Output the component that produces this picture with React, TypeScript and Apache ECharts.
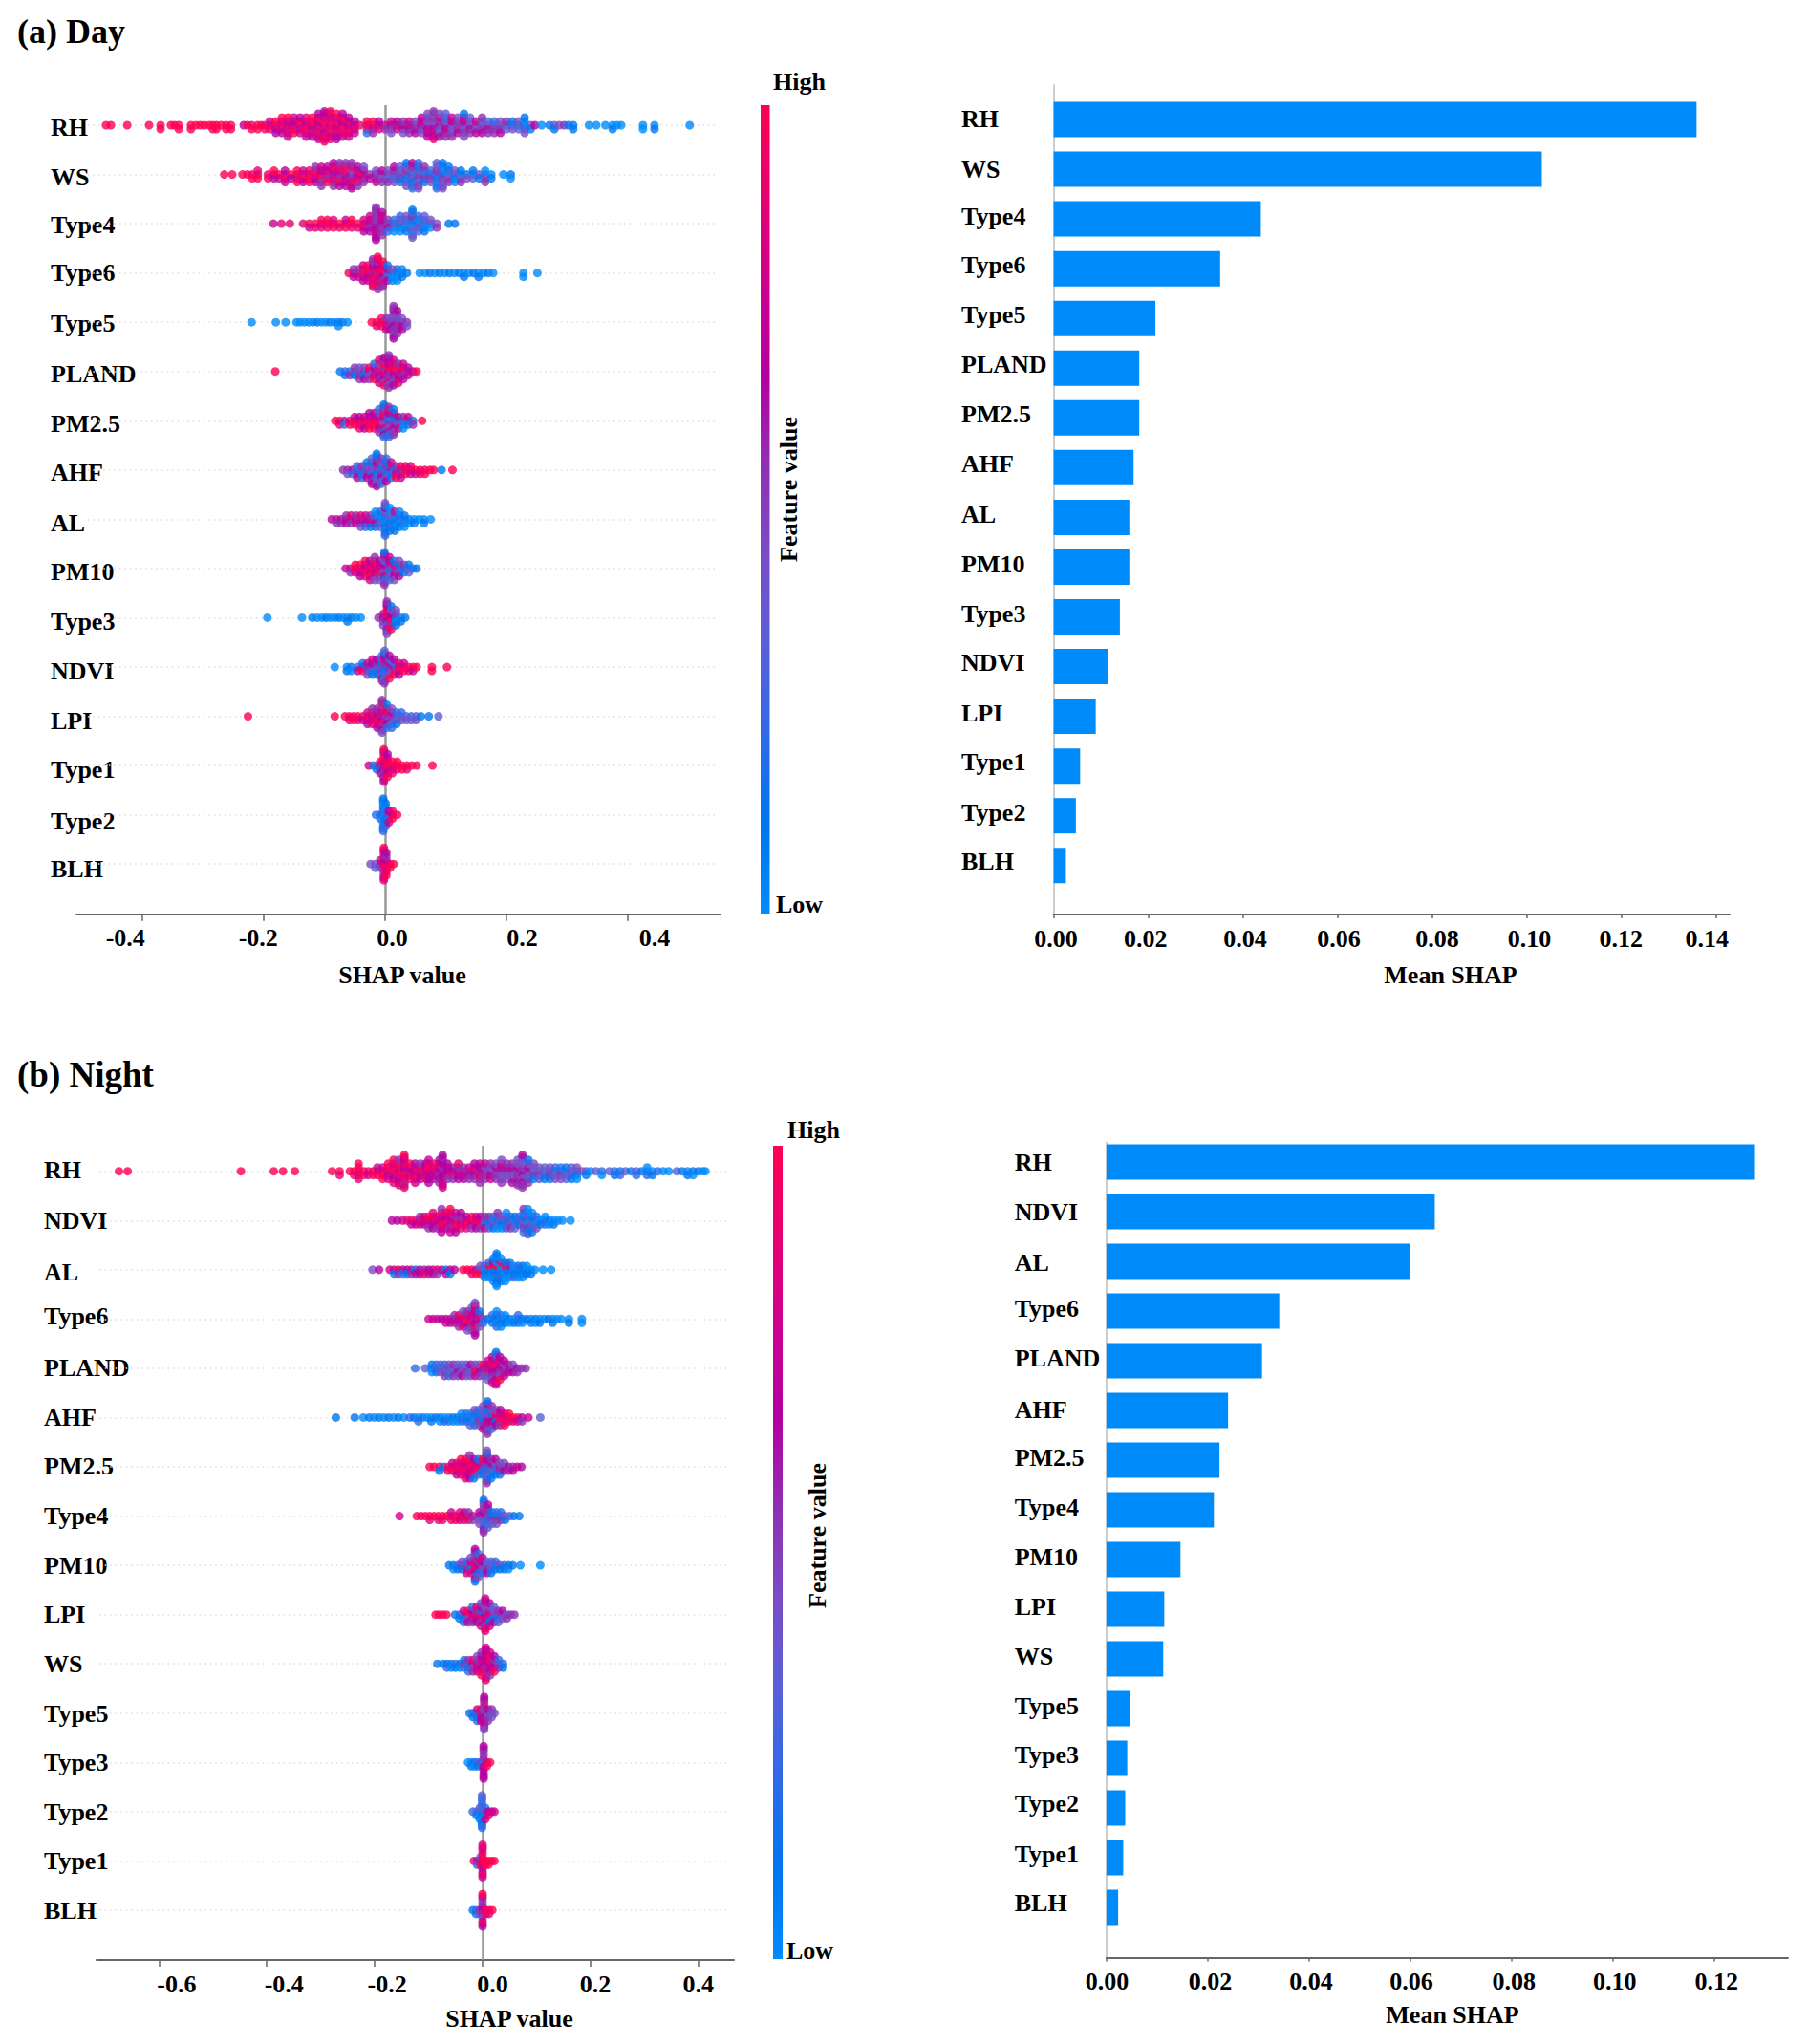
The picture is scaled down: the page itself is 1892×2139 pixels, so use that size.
import React, { useEffect, useRef } from "react";
import * as echarts from "echarts";

type Col = [number, string]; // [SHAP value in thousandths, one digit (0 low .. 9 high) per stacked dot]

const FONT = "'Liberation Serif','Times New Roman',serif";

const dayNames = ["RH","WS","Type4","Type6","Type5","PLAND","PM2.5","AHF","AL","PM10","Type3","NDVI","LPI","Type1","Type2","BLH"];
const nightNames = ["RH","NDVI","AL","Type6","PLAND","AHF","PM2.5","Type4","PM10","LPI","WS","Type5","Type3","Type2","Type1","BLH"];

const dayMean = [0.1359,0.1032,0.0438,0.0352,0.0215,0.0181,0.0181,0.0169,0.016,0.016,0.014,0.0114,0.0089,0.0056,0.0047,0.0026];
const nightMean = [0.128,0.0648,0.06,0.0341,0.0307,0.024,0.0223,0.0212,0.0146,0.0114,0.0112,0.0046,0.0041,0.0037,0.0033,0.0023];

const swarmDayTicks = [-0.4,-0.2,0,0.2,0.4];
const swarmDayLabelAt = [-0.428,-0.209,0.012,0.226,0.444];
const swarmDayLabels = ["-0.4","-0.2","0.0","0.2","0.4"];
const swarmNightTicks = [-0.6,-0.4,-0.2,0,0.2,0.4];
const swarmNightLabelAt = [-0.567,-0.368,-0.177,0.0186,0.209,0.4];
const swarmNightLabels = ["-0.6","-0.4","-0.2","0.0","0.2","0.4"];
const barDayTicks = [0,0.02,0.04,0.06,0.08,0.1,0.12,0.14];
const barDayLabelAt = [0.0005,0.0194,0.0405,0.0603,0.0811,0.1006,0.1199,0.1381];
const barDayLabels = ["0.00","0.02","0.04","0.06","0.08","0.10","0.12","0.14"];
const barNightTicks = [0,0.02,0.04,0.06,0.08,0.1,0.12];
const barNightLabelAt = [0.0001,0.0205,0.0404,0.0602,0.0804,0.1003,0.1204];
const barNightLabels = ["0.00","0.02","0.04","0.06","0.08","0.10","0.12"];

const palette = ["#008bfb","#0075f0","#2f6ae8","#5a5fd8","#7a4cc6","#9030b2","#b400a0","#cc0090","#e60072","#ff0051"];

// ---- Day swarm rows ----
const dayRH: Col[] = [[-460,"9"],[-452,"9"],[-425,"9"],[-389,"9"],[-370,"99"],[-353,"9"],[-347,"9"],[-340,"99"],[-320,"99"],[-312,"9"],[-305,"9"],[-298,"9"],[-290,"9"],[-284,"99"],[-278,"99"],[-270,"9"],[-262,"99"],[-254,"99"],[-233,"6"],[-227,"9"],[-220,"89"],[-210,"99"],[-204,"9"],[-198,"89"],[-190,"987"],[-180,"8796"],[-170,"98769"],[-160,"976897"],[-150,"78697"],[-140,"87976"],[-130,"697887"],[-120,"769896"],[-110,"97689867"],[-100,"7896787968"],[-90,"689976789"],[-80,"76987696"],[-70,"7968976"],[-60,"678967"],[-50,"7867"],[-42,"8"],[-30,"6992"],[-20,"8795"],[-10,"786"],[0,"75"],[10,"6574"],[20,"576"],[30,"7654"],[40,"5675"],[50,"6546"],[60,"65746"],[70,"5647564"],[80,"564756485"],[90,"6453764"],[100,"5647253"],[110,"546475"],[120,"45564"],[130,"5465741"],[140,"46453"],[150,"5476"],[160,"45365"],[170,"4635"],[180,"4525"],[190,"3546"],[200,"435"],[210,"241"],[220,"134"],[230,"12041"],[240,"41"],[247,"6"],[258,"0"],[271,"1"],[279,"31"],[287,"4"],[295,"5"],[302,"1"],[310,"11"],[336,"0"],[348,"0"],[363,"0"],[375,"01"],[382,"0"],[389,"0"],[425,"00"],[444,"01"],[502,"0"]];
const dayWS: Col[] = [[-265,"9"],[-252,"9"],[-235,"9"],[-227,"9"],[-219,"89"],[-210,"998"],[-193,"89"],[-183,"769"],[-175,"97"],[-165,"8967"],[-155,"96"],[-145,"9799"],[-135,"8976"],[-125,"7989"],[-115,"87965"],[-105,"896575"],[-95,"75896"],[-85,"5768956"],[-75,"6579865"],[-65,"5687965"],[-55,"65478956"],[-45,"768965"],[-35,"97654"],[-25,"56"],[-15,"6547"],[-5,"5465"],[5,"5345"],[15,"42546"],[25,"25413"],[35,"4152441"],[45,"14315262"],[55,"25431524"],[65,"35215"],[75,"1524"],[85,"31524032"],[95,"15240314"],[105,"04251"],[115,"2140"],[125,"0315"],[135,"14"],[145,"031"],[155,"41"],[165,"2405"],[175,"01"],[195,"0"],[207,"10"]];
const dayType4: Col[] = [[-184,"7"],[-171,"8"],[-157,"8"],[-135,"8"],[-125,"97"],[-115,"98"],[-105,"789"],[-95,"989"],[-85,"798"],[-75,"98"],[-65,"897"],[-55,"989"],[-45,"98"],[-35,"9876"],[-25,"65767"],[-15,"56565756565"],[-5,"6565756"],[5,"4652"],[15,"1420"],[25,"01402"],[35,"40214"],[45,"301450241"],[55,"14032"],[65,"40213"],[75,"204"],[85,"45"],[105,"1"],[115,"1"]];
const dayType6: Col[] = [[-60,"9"],[-52,"765"],[-44,"975"],[-36,"58967"],[-28,"96879"],[-20,"578967595"],[-12,"59876958759"],[-4,"86957895"],[4,"24761"],[12,"1040"],[20,"1020"],[28,"010"],[36,"1"],[57,"0"],[66,"0"],[74,"1"],[82,"0"],[90,"1"],[98,"0"],[106,"1"],[114,"0"],[122,"1"],[130,"01"],[138,"0"],[146,"1"],[154,"01"],[162,"0"],[170,"1"],[178,"0"],[228,"00"],[251,"0"]];
const dayType5: Col[] = [[-220,"0"],[-180,"0"],[-164,"0"],[-146,"0"],[-140,"0"],[-133,"0"],[-126,"0"],[-119,"0"],[-112,"1"],[-105,"0"],[-98,"0"],[-91,"1"],[-84,"0"],[-77,"10"],[-70,"1"],[-62,"0"],[-22,"9"],[-14,"98"],[-6,"899"],[2,"9857"],[8,"6546"],[14,"56454564565"],[20,"6545456"],[28,"5646"],[36,"54"]];
const dayPLAND: Col[] = [[-181,"9"],[-74,"1"],[-66,"21"],[-58,"25"],[-50,"415"],[-42,"3545"],[-34,"5146"],[-26,"6495"],[-18,"47692"],[-10,"5695478"],[-2,"785694596"],[6,"65956874655"],[14,"76958476"],[22,"579658"],[30,"65967"],[38,"576"],[46,"6"],[52,"9"]];
const dayPM25: Col[] = [[-82,"9"],[-75,"98"],[-67,"72"],[-58,"79"],[-50,"897"],[-42,"7968"],[-34,"8976"],[-26,"98796"],[-18,"89796"],[-10,"8976452"],[-2,"34789156421"],[6,"1524678152"],[14,"25167415"],[22,"1467"],[30,"1250"],[38,"417"],[46,"15"],[61,"9"]];
const dayAHF: Col[] = [[-69,"5"],[-62,"54"],[-54,"62"],[-46,"1526"],[-38,"4152"],[-30,"25461"],[-22,"52461536"],[-14,"41526354161"],[-6,"25164352"],[2,"3154162"],[10,"62517"],[18,"1759"],[26,"6597"],[34,"798"],[42,"978"],[50,"97"],[58,"98"],[66,"89"],[74,"9"],[80,"9"],[93,"1"],[111,"9"]];
const dayAL: Col[] = [[-88,"6"],[-80,"75"],[-72,"65"],[-64,"765"],[-56,"758"],[-48,"675"],[-40,"5684"],[-32,"5672"],[-24,"6751"],[-16,"46210"],[-8,"12041"],[0,"10214061024"],[8,"0142010"],[16,"012071"],[24,"10210"],[32,"0210"],[40,"10"],[48,"01"],[56,"0"],[64,"01"],[75,"0"]];
const dayPM10: Col[] = [[-65,"7"],[-57,"75"],[-49,"989"],[-41,"8796"],[-33,"79689"],[-25,"978967"],[-17,"9678945"],[-9,"897564"],[-1,"54673154651"],[7,"3154627"],[15,"258614"],[23,"53164"],[31,"215"],[39,"031"],[46,"2"],[52,"1"]];
const dayType3: Col[] = [[-194,"0"],[-137,"0"],[-120,"1"],[-112,"0"],[-104,"0"],[-97,"1"],[-90,"0"],[-83,"0"],[-76,"1"],[-69,"0"],[-62,"01"],[-55,"1"],[-48,"0"],[-40,"0"],[-11,"5"],[-3,"6574"],[3,"56849765645"],[10,"7965491"],[18,"10514"],[26,"01"],[33,"1"]];
const dayNDVI: Col[] = [[-83,"0"],[-63,"01"],[-56,"10"],[-45,"26"],[-37,"791"],[-29,"1574"],[-21,"52617"],[-13,"42516"],[-5,"25143625"],[-1,"41527462153"],[7,"1574296"],[15,"75296"],[23,"7986"],[31,"897"],[39,"98"],[46,"97"],[52,"9"],[77,"99"],[102,"9"]];
const dayLPI: Col[] = [[-226,"9"],[-83,"9"],[-66,"9"],[-59,"98"],[-52,"89"],[-45,"98"],[-37,"97"],[-29,"9876"],[-21,"67985"],[-13,"697856"],[-5,"56798546945"],[3,"4576921"],[11,"456342"],[19,"4321"],[27,"342"],[35,"34"],[43,"23"],[51,"34"],[59,"1"],[72,"1"],[88,"3"]];
const dayType1: Col[] = [[-27,"7"],[-20,"2"],[-14,"31"],[-8,"7196"],[-2,"97659795679"],[4,"9896796"],[12,"9798"],[20,"989"],[28,"99"],[36,"98"],[44,"9"],[52,"9"],[78,"9"]];
const dayType2: Col[] = [[-15,"2"],[-8,"12"],[-3,"10201201021"],[1,"0121021"],[6,"5267"],[12,"698"],[20,"9"]];
const dayBLH: Col[] = [[-24,"4"],[-16,"43"],[-8,"547"],[-2,"79659566789"],[2,"9868596"],[8,"89"],[14,"9"]];

// ---- Night swarm rows ----
const nightRH: Col[] = [[-674,"9"],[-658,"9"],[-448,"9"],[-387,"9"],[-370,"9"],[-348,"9"],[-279,"9"],[-265,"98"],[-246,"9"],[-238,"98"],[-230,"98989"],[-220,"89"],[-212,"97"],[-203,"89"],[-195,"987"],[-185,"8979"],[-175,"96879"],[-165,"7896789"],[-155,"69879658"],[-145,"89678965789"],[-135,"97689"],[-125,"678967"],[-115,"97865"],[-105,"87696"],[-100,"6796867"],[-90,"67868"],[-80,"6576856"],[-74,"76566768576"],[-65,"67656"],[-55,"7865"],[-45,"67568"],[-35,"6756"],[-25,"5675"],[-15,"76856"],[-5,"576865"],[5,"65457"],[15,"56475"],[25,"45654"],[35,"5464754"],[45,"54645"],[55,"546456"],[65,"45654645"],[74,"56544635456"],[85,"5462451"],[95,"45314"],[105,"3543"],[115,"4231"],[125,"3541"],[135,"1324"],[145,"1524"],[155,"0413"],[165,"2431"],[175,"3140"],[185,"4"],[192,"31"],[200,"0"],[210,"3"],[221,"20"],[235,"3"],[245,"21"],[255,"12"],[265,"3"],[275,"1"],[285,"32"],[295,"1"],[305,"120"],[315,"01"],[325,"2"],[335,"0"],[345,"0"],[360,"3"],[370,"1"],[380,"01"],[390,"10"],[400,"1"],[408,"0"],[413,"0"]];
const nightNDVI: Col[] = [[-168,"6"],[-158,"6"],[-148,"7"],[-140,"8"],[-132,"87"],[-124,"96"],[-116,"785"],[-108,"967"],[-100,"8795"],[-92,"67968"],[-84,"9675"],[-76,"6978965"],[-68,"79678"],[-60,"9765879"],[-50,"685976"],[-40,"97586"],[-30,"7968"],[-20,"8795"],[-12,"9876"],[-4,"9865"],[4,"4257"],[12,"2153"],[20,"0421"],[28,"14205"],[36,"2140"],[44,"31420"],[52,"1425"],[60,"0213"],[68,"412"],[76,"3415025"],[84,"10452103"],[92,"041201"],[100,"1024"],[108,"01"],[116,"120"],[124,"10"],[132,"01"],[140,"0"],[148,"0"],[163,"0"]];
const nightAL: Col[] = [[-204,"4"],[-192,"6"],[-172,"7"],[-164,"71"],[-156,"85"],[-148,"72"],[-140,"61"],[-132,"75"],[-124,"16"],[-116,"76"],[-108,"58"],[-100,"67"],[-92,"76"],[-84,"85"],[-76,"7"],[-68,"16"],[-60,"71"],[-52,"6"],[-36,"9"],[-28,"9"],[-20,"98"],[-12,"79"],[-4,"194"],[4,"0120"],[12,"01902"],[20,"0190701"],[26,"01920111001"],[34,"0102910"],[42,"019010"],[50,"01701"],[58,"0102"],[66,"0120"],[74,"0110"],[82,"010"],[90,"01"],[97,"0"],[112,"0"],[127,"0"]];
const nightType6: Col[] = [[-100,"7"],[-92,"7"],[-84,"7"],[-76,"6"],[-68,"67"],[-60,"76"],[-52,"675"],[-44,"7685"],[-36,"67984"],[-28,"598654"],[-20,"7965843"],[-14,"56786975864"],[-6,"57841"],[2,"42"],[10,"1"],[18,"012"],[26,"10120"],[34,"0120"],[42,"010"],[50,"10"],[58,"01"],[66,"012"],[74,"10"],[82,"1"],[90,"01"],[98,"10"],[106,"01"],[114,"0"],[122,"1"],[130,"01"],[138,"0"],[146,"0"],[160,"01"],[184,"00"]];
const nightPLAND: Col[] = [[-125,"2"],[-106,"3"],[-94,"201"],[-86,"312"],[-78,"243"],[-70,"4325"],[-62,"5342"],[-54,"4355"],[-46,"4634"],[-38,"5436"],[-30,"4534"],[-22,"5364"],[-14,"5947"],[-6,"9645"],[2,"6594"],[10,"586473"],[18,"76958467"],[25,"76857658471"],[32,"6574896"],[40,"65476"],[48,"567"],[56,"564"],[64,"65"],[72,"5"],[80,"5"]];
const nightAHF: Col[] = [[-272,"1"],[-237,"1"],[-221,"0"],[-210,"1"],[-201,"0"],[-192,"1"],[-183,"0"],[-174,"1"],[-165,"0"],[-156,"1"],[-146,"0"],[-135,"2"],[-127,"1"],[-119,"02"],[-111,"1"],[-103,"0"],[-95,"01"],[-87,"1"],[-79,"10"],[-71,"01"],[-63,"02"],[-55,"10"],[-47,"10"],[-39,"120"],[-31,"012"],[-23,"2103"],[-15,"30124"],[-7,"25142"],[1,"4125364"],[9,"56471524651"],[17,"5617425"],[25,"71964"],[33,"89756"],[41,"9879"],[49,"989"],[57,"98"],[65,"97"],[73,"65"],[85,"7"],[107,"3"]];
const nightPM25: Col[] = [[-98,"9"],[-90,"9"],[-80,"91"],[-72,"1"],[-64,"98"],[-56,"897"],[-48,"7986"],[-40,"98789"],[-32,"896798"],[-24,"9787965"],[-16,"978961"],[-8,"89721"],[0,"72519"],[8,"21546372154"],[16,"146251"],[24,"52416"],[32,"6541"],[40,"564"],[48,"65"],[56,"56"],[64,"7"],[72,"6"]];
const nightType4: Col[] = [[-154,"7"],[-122,"9"],[-114,"8"],[-106,"9"],[-98,"98"],[-90,"9"],[-82,"98"],[-74,"98"],[-66,"9"],[-58,"987"],[-50,"89"],[-42,"978"],[-34,"986"],[-26,"985"],[-18,"75"],[-6,"5364"],[2,"54635256451"],[10,"4152536"],[18,"2513"],[26,"1524"],[34,"152"],[42,"41"],[50,"3"],[58,"1"],[68,"1"]];
const nightPM10: Col[] = [[-62,"1"],[-54,"10"],[-46,"21"],[-38,"514"],[-30,"4527"],[-22,"52784"],[-14,"79865427516"],[-8,"6751842"],[0,"54627"],[8,"4536"],[16,"2431"],[24,"312"],[32,"41"],[40,"21"],[48,"10"],[56,"1"],[70,"0"],[107,"0"]];
const nightLPI: Col[] = [[-87,"9"],[-81,"9"],[-74,"9"],[-67,"9"],[-51,"1"],[-43,"21"],[-35,"3172"],[-27,"7496"],[-19,"87652"],[-11,"97568"],[-3,"9815674"],[5,"68574159687"],[13,"6581476"],[21,"51463"],[29,"4153"],[37,"546"],[45,"35"],[52,"5"],[59,"5"]];
const nightWS: Col[] = [[-84,"1"],[-73,"1"],[-66,"12"],[-58,"10"],[-50,"21"],[-42,"10"],[-34,"921"],[-26,"3152"],[-18,"7485"],[-10,"68574"],[-2,"5678695"],[6,"65786579687"],[14,"6786957"],[22,"76596"],[30,"452"],[38,"21"]];
const nightType5: Col[] = [[-24,"1"],[-18,"21"],[-10,"3172"],[-3,"5786"],[3,"56475687546"],[10,"5465"],[17,"345"],[22,"4"]];
const nightType3: Col[] = [[-27,"0"],[-21,"01"],[-15,"10"],[-9,"21"],[-2,"52"],[2,"06565656566"],[8,"79"],[14,"9"]];
const nightType2: Col[] = [[-18,"2"],[-11,"31"],[-5,"2031"],[-1,"21302131023"],[5,"4127"],[11,"68"],[17,"7"],[22,"7"]];
const nightType1: Col[] = [[-16,"8"],[-10,"72"],[-4,"693"],[0,"78979679878"],[5,"99"],[11,"99"],[17,"9"],[22,"9"]];
const nightBLH: Col[] = [[-18,"1"],[-12,"21"],[-5,"54"],[0,"65645659769"],[6,"89"],[12,"98"],[18,"9"]];

const dayRows = [dayRH,dayWS,dayType4,dayType6,dayType5,dayPLAND,dayPM25,dayAHF,dayAL,dayPM10,dayType3,dayNDVI,dayLPI,dayType1,dayType2,dayBLH];
const nightRows = [nightRH,nightNDVI,nightAL,nightType6,nightPLAND,nightAHF,nightPM25,nightType4,nightPM10,nightLPI,nightWS,nightType5,nightType3,nightType2,nightType1,nightBLH];

// Hand-set label shifts (px) of the row labels, which sit unevenly in the picture.
const swarmDayNudge = [3,3,1,0,1,3,3,3,4,4,4,4,5,4,7,5];
const swarmNightNudge = [-1,0,3,-3,0,0,0,0,0,0,0,1,0,1,0,1];
const barDayNudge = [0,0,-3,-4,-4,-4,-4,-4,-3,-3,-3,-4,-3,-4,-3,-4];
const barNightNudge = [0,0,1,-3,-3,-1,-3,-3,-3,-3,-3,-3,-4,-5,-4,-5];

const ROW_PX = 51.55;
const BAR_ROW_PX = 52.05;
const SERIF = `bold 26px ${FONT}`;

function stackOffsetPx(k: number) {
  if (k === 0) return 0;
  const level = Math.ceil(k / 2);
  const px = level <= 3 ? level * 4 : 12 + (level - 3) * 2.5;
  return (k % 2 ? 1 : -1) * px;
}

function swarmPoints(rows: Col[][]) {
  const pts: number[][] = [];
  rows.forEach((cols, row) => {
    cols.forEach(([milli, digits]) => {
      digits.split("").forEach((d, k) => {
        pts.push([milli / 1000, row + stackOffsetPx(k) / ROW_PX, Number(d)]);
      });
    });
  });
  return pts;
}

const axisText = { fontFamily: FONT, fontWeight: "bold" as const, fontSize: 26, color: "#000" };

function xAxisOf(grid: number, min: number, max: number, ticks: number[], at: number[], labels: string[], tickLen: number) {
  return {
    type: "value", gridIndex: grid, min, max, position: "bottom",
    splitLine: { show: false },
    axisLine: { show: true, onZero: false, lineStyle: { color: "#666", width: 2 } },
    axisTick: { show: true, customValues: ticks, length: tickLen, lineStyle: { color: "#666", width: 1.5 } },
    axisLabel: {
      ...axisText, margin: 12, customValues: at, hideOverlap: false,
      formatter: (v: number) => labels[at.indexOf(v)] ?? "",
    },
  };
}

function swarmYAxis(grid: number, min: number, max: number, names: string[], nudge: number[], margin: number) {
  const at = names.map((_, i) => i + nudge[i] / ROW_PX);
  return {
    type: "value", gridIndex: grid, min, max, inverse: true,
    splitLine: { show: false }, axisLine: { show: false }, axisTick: { show: false },
    axisLabel: {
      ...axisText, margin, align: "left", padding: [6, 0, 0, 0],
      customValues: at,
      formatter: (v: number) => names[at.indexOf(v)] ?? "",
    },
  };
}

function swarmSeries(grid: number, rows: Col[][], guideFrom: number, guideTo: number, yMin: number, yMax: number) {
  const guides: any[] = rows.map((_, i) => [
    { coord: [guideFrom, i], lineStyle: { color: "#dedede", type: [1.5, 4], width: 1.5 } },
    { coord: [guideTo, i] },
  ]);
  guides.push([
    { coord: [0, yMin], lineStyle: { color: "#999", type: "solid", width: 2.5 } },
    { coord: [0, yMax] },
  ]);
  return {
    type: "scatter", xAxisIndex: grid, yAxisIndex: grid, symbolSize: 9, z: 3,
    data: swarmPoints(rows), silent: true, clip: false,
    markLine: { silent: true, z: 1, symbol: ["none", "none"], label: { show: false }, animation: false, data: guides },
  };
}

// Frame of a bar panel: its y line is taller than the bar bands, and it carries the row names.
function frameY(grid: number, frameTop: number, frameHeight: number, bandTop: number, names: string[], nudge: number[], margin: number) {
  const at = names.map((_, i) => (bandTop + BAR_ROW_PX * (i + 0.5) + nudge[i] - frameTop) / frameHeight);
  return {
    type: "value", gridIndex: grid, min: 0, max: 1, inverse: true,
    splitLine: { show: false }, axisTick: { show: false },
    axisLabel: {
      ...axisText, margin, align: "left", customValues: at,
      formatter: (v: number) => names[at.indexOf(v)] ?? "",
    },
    axisLine: { show: true, onZero: false, lineStyle: { color: "#bdbdbd", width: 1.5 } },
  };
}

function barAxes(grid: number, max: number, names: string[]) {
  return {
    x: { type: "value", gridIndex: grid, min: 0, max, show: false },
    y: {
      type: "category", gridIndex: grid, inverse: true, data: names,
      axisLine: { show: false }, axisTick: { show: false }, splitLine: { show: false },
      axisLabel: { show: false },
    },
  };
}

function label(text: string, x: number, y: number, opts: any = {}) {
  const { font = SERIF, align = "left", rotation = 0 } = opts;
  return { type: "text", x, y, rotation, silent: true, style: { text, font, fill: "#000", align, verticalAlign: "middle" } };
}

function colourBar(x: number, y: number, width: number, height: number) {
  const stops = palette.map((color, i) => ({ offset: 1 - i / (palette.length - 1), color })).reverse();
  return {
    type: "rect", silent: true, shape: { x, y, width, height },
    style: { fill: new echarts.graphic.LinearGradient(0, 0, 0, 1, stops) },
  };
}

export default function App() {
  const ref = useRef<HTMLDivElement>(null);
  useEffect(() => {
    document.body.style.margin = "0";
    const chart = echarts.init(ref.current!, undefined, { renderer: "svg" });

    const dayBarAxes = barAxes(4, 0.1429, dayNames);
    const nightBarAxes = barAxes(5, 0.1345, nightNames);
    const dayYMin = -0.407, dayYMax = 16.018, nightYMin = -0.518, nightYMax = 16.01;

    chart.setOption({
      animation: false,
      backgroundColor: "#fff",
      grid: [
        { left: 80, top: 110, width: 674, height: 846.7 },
        { left: 101, top: 1199, width: 667, height: 852 },
        { left: 1102.6, top: 88.7, width: 707.4, height: 868.3 },
        { left: 1157.9, top: 1195.6, width: 713.1, height: 852.9 },
        { left: 1102.6, top: 98.97, width: 707.4, height: 832.8 },
        { left: 1157.9, top: 1190, width: 713.1, height: 832 },
      ],
      xAxis: [
        xAxisOf(0, -0.5087, 0.5528, swarmDayTicks, swarmDayLabelAt, swarmDayLabels, 7),
        xAxisOf(1, -0.7157, 0.4659, swarmNightTicks, swarmNightLabelAt, swarmNightLabels, 7),
        xAxisOf(2, 0, 0.1429, barDayTicks, barDayLabelAt, barDayLabels, 4),
        xAxisOf(3, 0, 0.1345, barNightTicks, barNightLabelAt, barNightLabels, 4),
        dayBarAxes.x,
        nightBarAxes.x,
      ],
      yAxis: [
        swarmYAxis(0, dayYMin, dayYMax, dayNames, swarmDayNudge, 27),
        swarmYAxis(1, nightYMin, nightYMax, nightNames, swarmNightNudge, 55),
        frameY(2, 88.7, 868.3, 98.97, dayNames, barDayNudge, 96.6),
        frameY(3, 1195.6, 852.9, 1190, nightNames, barNightNudge, 96.2),
        dayBarAxes.y,
        nightBarAxes.y,
      ],
      visualMap: [{ show: false, type: "continuous", seriesIndex: [0, 1], dimension: 2, min: 0, max: 9, inRange: { color: palette } }],
      series: [
        swarmSeries(0, dayRows, -0.49, 0.545, dayYMin, dayYMax),
        swarmSeries(1, nightRows, -0.71, 0.46, nightYMin, nightYMax),
        { type: "bar", xAxisIndex: 4, yAxisIndex: 4, data: dayMean, barWidth: 37, itemStyle: { color: "#008bfb" }, silent: true },
        { type: "bar", xAxisIndex: 5, yAxisIndex: 5, data: nightMean, barWidth: 37, itemStyle: { color: "#008bfb" }, silent: true },
      ],
      graphic: [
        label("(a) Day", 18, 33, { font: `bold 36px ${FONT}` }),
        label("(b) Night", 18, 1124, { font: `bold 37px ${FONT}` }),
        colourBar(796, 110, 9.5, 846),
        colourBar(809, 1199, 10, 851),
        label("High", 809, 85),
        label("Low", 812, 946),
        label("High", 824, 1182),
        label("Low", 823, 2041),
        label("Feature value", 825, 512, { align: "center", rotation: Math.PI / 2 }),
        label("Feature value", 855, 1607, { align: "center", rotation: Math.PI / 2 }),
        label("SHAP value", 421, 1020, { align: "center" }),
        label("SHAP value", 533, 2112, { align: "center" }),
        label("Mean SHAP", 1518, 1020, { align: "center" }),
        label("Mean SHAP", 1520, 2108, { align: "center" }),
      ],
    });
    return () => chart.dispose();
  }, []);
  return <div ref={ref} style={{ width: 1892, height: 2139 }} />;
}
